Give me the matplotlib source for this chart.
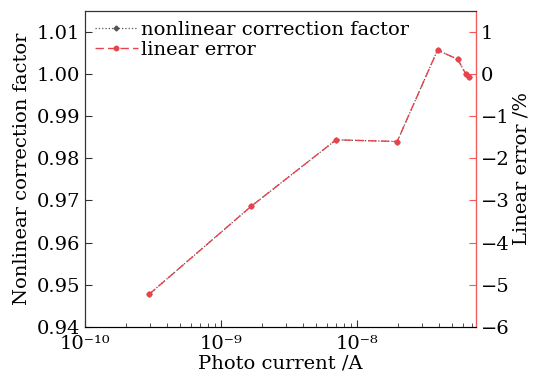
import numpy as np
import matplotlib
matplotlib.use('Agg')
import matplotlib.pyplot as plt

plt.rcParams['font.family'] = 'DejaVu Serif'

# data
current = [2.95e-10, 1.66e-9, 7.0e-9, 1.97e-8, 3.9e-8, 5.5e-8, 6.3e-8, 6.65e-8]
factor = [0.9477, 0.9686, 0.9844, 0.9840, 1.0057, 1.0035, 1.0000, 0.9994]
lin_err = [(f - 1) * 100 for f in factor]  # linear error in %
x_ticks = [1e-10, 1e-9, 1e-8]
x_labels = ['10\u207b\u00b9\u2070', '10\u207b\u2079', '10\u207b\u2078']

fig, ax = plt.subplots(figsize=(5.35, 3.77), dpi=100)
fig.subplots_adjust(left=0.159, right=0.89, top=0.971, bottom=0.133)

l1, = ax.plot(current, factor, color='#555555', ls=':', lw=0.9, marker='D', ms=2.5,
              label='nonlinear correction factor')
ax.set_xscale('log')
ax.set_xlim(1e-10, 7.5e-8)
ax.set_xticks(x_ticks, x_labels)
ax.set_ylim(0.94, 1.015)
ax.set_yticks([0.94, 0.95, 0.96, 0.97, 0.98, 0.99, 1.00, 1.01])
ax.set_ylabel('Nonlinear correction factor', fontsize=14, labelpad=4)
ax.set_xlabel('Photo current /A', fontsize=14, labelpad=1)
ax.tick_params(direction='in', labelsize=14, length=5, color='#333333')
ax.tick_params(axis='x', pad=6)
ax.tick_params(which='minor', direction='in', length=3, color='#333333')
ax.tick_params(top=False, which='both')
for s in ['left', 'bottom', 'top']:
    ax.spines[s].set_color('#333333')

ax2 = ax.twinx()
l2, = ax2.plot(current, lin_err, color='#e8434b', ls='--', lw=1.0, dashes=(6, 3),
               marker='o', ms=3.2, label='linear error')
ax2.set_ylim(-6, 1.5)
ax2.set_yticks([-6, -5, -4, -3, -2, -1, 0, 1])
ax2.set_yticklabels(['\u22126', '\u22125', '\u22124', '\u22123', '\u22122', '\u22121', '0', '1'])
ax2.set_ylabel('Linear error /%', fontsize=14, labelpad=2)
ax2.tick_params(direction='in', labelsize=14, length=5, color='#f05a5a')
ax2.spines['right'].set_color('#f05a5a')
ax2.spines['left'].set_color('#333333')
ax2.spines['top'].set_color('#333333')

ax2.legend(handles=[l1, l2], loc='upper left', frameon=False, fontsize=14,
           handlelength=2.2, handletextpad=0.2, borderaxespad=0.1, labelspacing=0.1)

fig.savefig('out.png', dpi=100)
